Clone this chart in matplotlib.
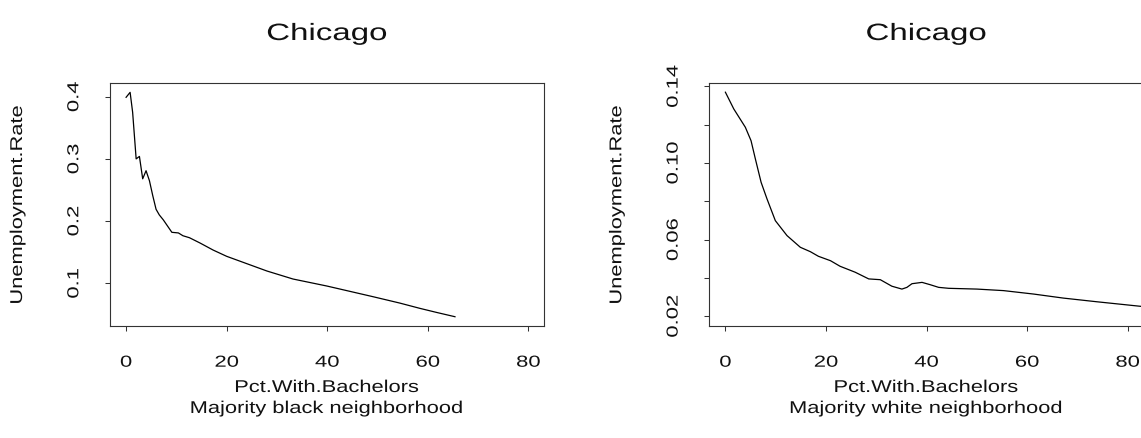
import matplotlib
matplotlib.use("Agg")
import matplotlib.pyplot as plt
from matplotlib.patheffects import AbstractPathEffect
from matplotlib.transforms import Affine2D, offset_copy, blended_transform_factory

# ---------------- data ----------------
black_pct = [0.0, 0.8, 1.3, 2.0, 2.65, 3.3, 3.97, 4.64, 5.3, 5.96, 6.6, 7.4, 9.1,
             10.4, 11.3, 12.6, 14.7, 17.3, 20.0, 24.0, 28.0, 33.2, 39.9, 44.5,
             49.1, 54.4, 58.4, 61.7, 65.4]
black_unemp = [0.399, 0.407, 0.375, 0.300, 0.304, 0.268, 0.281, 0.265, 0.241, 0.219,
               0.210, 0.202, 0.182, 0.181, 0.1765, 0.1733, 0.1648, 0.1535, 0.1434,
               0.1316, 0.1198, 0.1069, 0.0957, 0.0871, 0.0785, 0.0683, 0.0598,
               0.0533, 0.0463]

white_pct = [0.0, 1.66, 3.97, 5.1, 5.96, 7.1, 8.28, 9.93, 12.25, 14.9, 16.9, 18.5,
             20.9, 22.8, 25.8, 28.5, 30.8, 33.1, 35.1, 36.1, 37.1, 39.1, 40.7, 42.4,
             44.4, 50.0, 55.3, 61.3, 67.2, 73.8, 82.6]
white_unemp = [0.1369, 0.1282, 0.1186, 0.1116, 0.1021, 0.0899, 0.0812, 0.0699,
               0.0621, 0.0560, 0.0537, 0.0513, 0.0490, 0.0461, 0.0430, 0.0395,
               0.0391, 0.0357, 0.0342, 0.0351, 0.0370, 0.0377, 0.0365, 0.0351,
               0.0346, 0.0342, 0.0334, 0.0316, 0.0295, 0.0276, 0.0252]

x_ticks = [0, 20, 40, 60, 80]
x_tick_labels = ["0", "20", "40", "60", "80"]
black_y_ticks = [0.1, 0.2, 0.3, 0.4]
black_y_tick_labels = ["0.1", "0.2", "0.3", "0.4"]
white_y_ticks = [0.02, 0.04, 0.06, 0.08, 0.10, 0.12, 0.14]
white_y_tick_labels = ["0.02", "", "0.06", "", "0.10", "", "0.14"]

title_text = "Chicago"
x_title = "Pct.With.Bachelors"
y_title = "Unemployment.Rate"
subtitles = ["Majority black neighborhood", "Majority white neighborhood"]

# ---------------- style ----------------
plt.rcParams["font.family"] = ["Liberation Sans", "DejaVu Sans"]
W, H = 1141, 439
fig = plt.figure(figsize=(W / 100, H / 100), dpi=100)


class Stretch(AbstractPathEffect):
    """Widen glyphs along the reading direction (the reference uses a wide face)."""
    def __init__(self, sx=1.0):
        super().__init__()
        self.sx = sx

    def draw_path(self, renderer, gc, tpath, affine, rgbFace=None):
        ext = tpath.get_extents()
        cx = 0.5 * (ext.x0 + ext.x1)
        t = Affine2D().translate(-cx, 0).scale(self.sx, 1).translate(cx, 0) + affine
        renderer.draw_path(gc, tpath, t, rgbFace)


def rect(x0, y0, x1, y1):
    return [x0 / W, 1 - y1 / H, (x1 - x0) / W, (y1 - y0) / H]


TICK_FS, TICK_SX = 11.5, 1.38
LAB_FS, LAB_SX = 12.3, 1.28
TITLE_FS, TITLE_SX = 17.0, 1.40
INK = "#111111"
AX_BOTTOM = 327
TITLE_BASE = 41
XLAB_BASE = (393, 414)
YLAB_BASE_X = 22


def panel(ax, xs, ys, yticks, ylabels, ylim, sub):
    ax.plot(xs, ys, color="black", lw=0.9, solid_joinstyle="round")
    ax.set_xlim(-3.2, 83.1)
    ax.set_ylim(*ylim)
    ax.set_xticks(x_ticks)
    ax.set_yticks(yticks)
    ax.set_xticklabels([])
    ax.set_yticklabels([])
    ax.tick_params(direction="out", length=3.8, width=0.75, color="#333333")
    for s in ax.spines.values():
        s.set_linewidth(0.8)
        s.set_color("#333333")

    # x tick labels
    tx = offset_copy(blended_transform_factory(ax.transData, ax.transAxes),
                     fig=fig, x=0, y=-40.7, units="dots")
    for v, lab in zip(x_ticks, x_tick_labels):
        ax.text(v, 0, lab, transform=tx, ha="center", va="baseline",
                fontsize=TICK_FS, color=INK, clip_on=False,
                path_effects=[Stretch(TICK_SX)])
    # y tick labels
    ty = offset_copy(blended_transform_factory(ax.transAxes, ax.transData),
                     fig=fig, x=-31.7, y=0, units="dots")
    for v, lab in zip(yticks, ylabels):
        if lab:
            ax.text(0, v, lab, transform=ty, ha="center", va="baseline",
                    rotation=90, rotation_mode="anchor", fontsize=TICK_FS,
                    color=INK, clip_on=False, path_effects=[Stretch(TICK_SX)])
    # title
    tt = offset_copy(ax.transAxes, fig=fig, x=0, y=84 - TITLE_BASE, units="dots")
    ax.text(0.5, 1, title_text, transform=tt, ha="center", va="baseline",
            fontsize=TITLE_FS, color=INK, path_effects=[Stretch(TITLE_SX)])
    # x axis titles (two lines)
    t1 = offset_copy(ax.transAxes, fig=fig, x=0, y=-(XLAB_BASE[0] - AX_BOTTOM), units="dots")
    ax.text(0.5, 0, x_title, transform=t1, ha="center", va="baseline",
            fontsize=LAB_FS, color=INK, path_effects=[Stretch(LAB_SX)])
    t2 = offset_copy(ax.transAxes, fig=fig, x=0, y=-(XLAB_BASE[1] - AX_BOTTOM), units="dots")
    ax.text(0.5, 0, sub, transform=t2, ha="center", va="baseline",
            fontsize=LAB_FS, color=INK, path_effects=[Stretch(LAB_SX)])
    # y axis title
    t3 = offset_copy(ax.transAxes, fig=fig, x=-(110 - YLAB_BASE_X), y=0, units="dots")
    ax.text(0, 0.5, y_title, transform=t3, ha="center", va="baseline",
            rotation=90, rotation_mode="anchor", fontsize=LAB_FS, color=INK,
            path_effects=[Stretch(LAB_SX)])


axL = fig.add_axes(rect(110, 84, 544, 327))
axR = fig.add_axes(rect(709.3, 84, 1143.3, 327))
panel(axL, black_pct, black_unemp, black_y_ticks, black_y_tick_labels,
      (0.0314, 0.422), subtitles[0])
panel(axR, white_pct, white_unemp, white_y_ticks, white_y_tick_labels,
      (0.01494, 0.1417), subtitles[1])

fig.savefig("out.png", dpi=100, facecolor="white")
